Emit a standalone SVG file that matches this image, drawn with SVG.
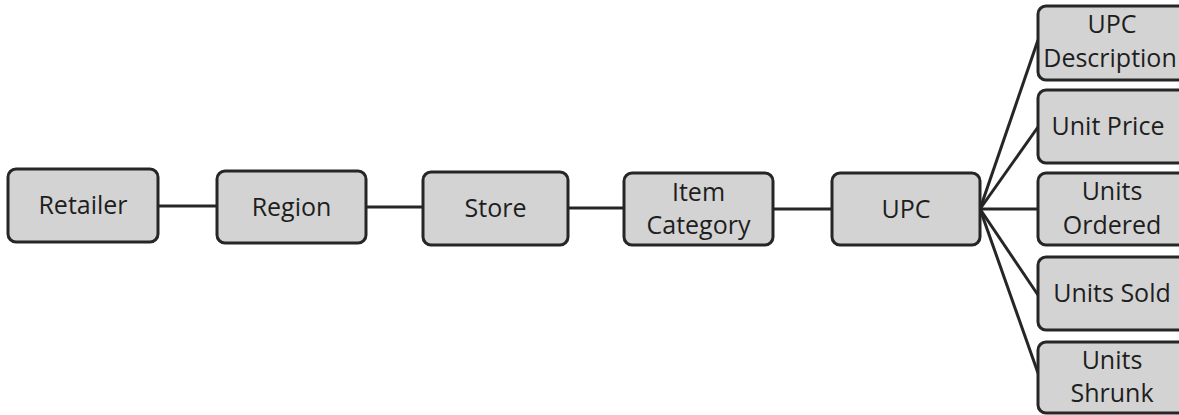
<svg xmlns="http://www.w3.org/2000/svg" width="1179" height="415" viewBox="0 0 1179 415">
<style>
.box{fill:#d3d3d3;stroke:#262626;stroke-width:3}
.t{font-family:"Open Sans","Liberation Sans",sans-serif;font-size:25px;fill:#1e1e1e;text-anchor:middle}
.c{stroke:#262626;stroke-width:3;fill:none}
</style>
<rect width="1179" height="415" fill="#fff"/>
<g id="connectors">
<line class="c" x1="158" y1="206" x2="217" y2="206"/>
<line class="c" x1="366" y1="207" x2="423" y2="207"/>
<line class="c" x1="568" y1="208" x2="624" y2="208"/>
<line class="c" x1="773" y1="209" x2="832" y2="209"/>
<line class="c" x1="980" y1="209" x2="1038" y2="209"/>
<line class="c" x1="980" y1="209" x2="1038" y2="40"/>
<line class="c" x1="980" y1="209" x2="1038" y2="127"/>
<line class="c" x1="980" y1="209" x2="1038" y2="295"/>
<line class="c" x1="980" y1="209" x2="1038" y2="373"/>
</g>
<g id="retailer"><rect class="box" x="8" y="169" width="150" height="73" rx="8"/><text class="t" x="83" y="214">Retailer</text></g>
<g id="region"><rect class="box" x="217" y="171" width="149" height="72" rx="8"/><text class="t" x="291.5" y="216">Region</text></g>
<g id="store"><rect class="box" x="423" y="172" width="145" height="73" rx="8"/><text class="t" x="495.5" y="217">Store</text></g>
<g id="item-category"><rect class="box" x="624" y="173" width="149" height="72" rx="8"/><text class="t" x="698.5" y="201">Item</text><text class="t" x="698.5" y="234">Category</text></g>
<g id="upc"><rect class="box" x="832" y="173" width="148" height="72" rx="8"/><text class="t" x="906" y="218">UPC</text></g>
<g id="upc-description"><rect class="box" x="1038" y="6" width="148" height="74" rx="8"/><text class="t" x="1112" y="33">UPC</text><text class="t" x="1110" y="67">Description</text></g>
<g id="unit-price"><rect class="box" x="1038" y="90" width="148" height="73" rx="8"/><text class="t" x="1108" y="135">Unit Price</text></g>
<g id="units-ordered"><rect class="box" x="1038" y="173" width="148" height="72" rx="8"/><text class="t" x="1112" y="200">Units</text><text class="t" x="1112" y="234">Ordered</text></g>
<g id="units-sold"><rect class="box" x="1038" y="257" width="148" height="73" rx="8"/><text class="t" x="1112" y="302">Units Sold</text></g>
<g id="units-shrunk"><rect class="box" x="1038" y="342" width="148" height="71" rx="8"/><text class="t" x="1112" y="369">Units</text><text class="t" x="1112" y="402">Shrunk</text></g>
</svg>
